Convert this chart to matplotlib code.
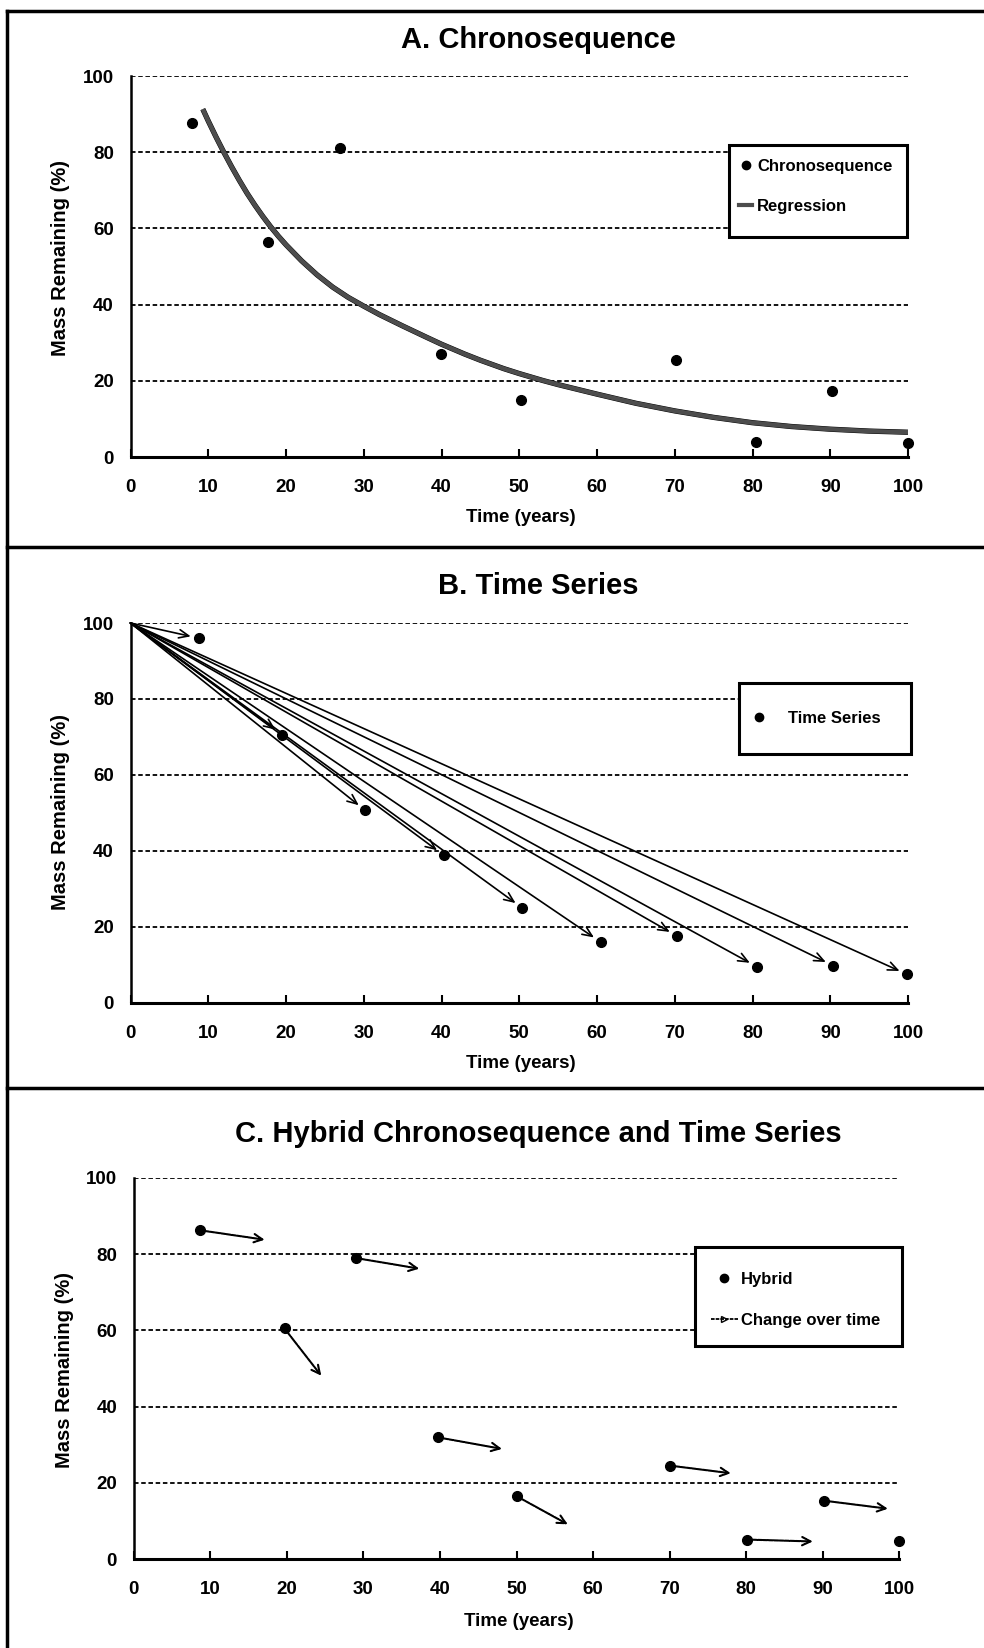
import numpy as np
import matplotlib.pyplot as plt
import matplotlib.patheffects as pe
from matplotlib.lines import Line2D
from matplotlib.patches import Rectangle

plt.rcParams['font.family'] = ['Liberation Sans', 'DejaVu Sans']
plt.rcParams['font.weight'] = 'bold'

# A. Chronosequence
chrono_x = [7.9, 17.7, 26.9, 39.9, 50.2, 70.1, 80.4, 90.2, 100]
chrono_y = [87.6, 56.3, 81.2, 27.1, 14.9, 25.4, 4.0, 17.3, 3.8]
regr_x = [9.3, 10, 11, 12, 13, 14, 15, 16, 17, 18, 19, 20, 22, 24, 26, 28, 30, 32, 35, 38, 40,
          43, 45, 48, 50, 53, 55, 58, 60, 65, 70, 75, 80, 85, 90, 95, 100]
regr_y = [91.3, 88.2, 84.0, 80.0, 76.2, 72.6, 69.2, 66.1, 63.2, 60.5, 58.0, 55.7, 51.5, 47.8, 44.6,
          41.9, 39.6, 37.4, 34.4, 31.5, 29.6, 27.0, 25.4, 23.2, 21.9, 20.1, 19.0, 17.5, 16.5, 14.1,
          12.1, 10.4, 9.0, 8.0, 7.3, 6.8, 6.5]

# B. Time series (all arrows start at 0 years, 100 %)
ts_x = [8.8, 19.5, 30.2, 40.3, 50.4, 60.5, 70.3, 80.6, 90.4, 99.9]
ts_y = [96.0, 70.6, 50.6, 38.8, 24.9, 15.9, 17.5, 9.4, 9.7, 7.4]

# C. Hybrid
hyb_x = [8.6, 19.7, 29.0, 39.8, 50.0, 70.1, 80.1, 90.2, 100]
hyb_y = [86.3, 60.5, 79.0, 31.9, 16.5, 24.5, 5.1, 15.3, 4.6]
hyb_end_x = [17.1, 24.5, 37.3, 48.1, 56.7, 78.0, 88.7, 98.5]
hyb_end_y = [83.8, 48.1, 76.2, 28.9, 9.1, 22.5, 4.6, 13.2]

xticks = list(range(0, 101, 10))
yticks = list(range(0, 101, 20))

W, H = 984, 1648
fig = plt.figure(figsize=(W / 100, H / 100), dpi=100)


def make_axes(left, right, top, bottom):
    ax = fig.add_axes([left / W, 1 - bottom / H, (right - left) / W, (bottom - top) / H])
    ax.box_px = (left, right, top, bottom)
    ax.set_xlim(0, 100)
    ax.set_ylim(0, 100)
    ax.set_xticks(xticks)
    ax.set_yticks(yticks)
    ax.spines['top'].set_visible(False)
    ax.spines['right'].set_visible(False)
    ax.spines['left'].set_linewidth(1.8)
    ax.spines['bottom'].set_linewidth(2.2)
    ax.tick_params(axis='x', direction='in', length=6, width=1.5, pad=16, labelsize=13.5)
    ax.tick_params(axis='y', length=0, pad=12, labelsize=13.5)
    for lab in ax.get_xticklabels() + ax.get_yticklabels():
        lab.set_fontweight('bold')
    ax.yaxis.grid(True, color='black', linestyle=(0, (2.5, 1.5)), linewidth=1.3)
    ax.set_axisbelow(True)
    return ax


def to_axes(ax, x, y):
    left, right, top, bottom = ax.box_px
    return (x - left) / (right - left), (bottom - y) / (bottom - top)


def hollow(lw):
    return [pe.Stroke(linewidth=lw, foreground='black'), pe.Stroke(linewidth=lw * 0.35, foreground='0.75'), pe.Normal()]


def legend_box(ax, handles, labels, box, start, top, hl, tp, ls):
    # box drawn separately so its size matches the original, entries placed inside it
    x0, y1 = to_axes(ax, box[0], box[2])
    x1, y0 = to_axes(ax, box[1], box[3])
    ax.add_patch(Rectangle((x0, y0), x1 - x0, y1 - y0, transform=ax.transAxes, facecolor='white',
                           edgecolor='black', lw=2.2, zorder=4.8, clip_on=False))
    ax_x, ax_y = to_axes(ax, start, top)
    ax.legend(handles, labels, loc='upper left', bbox_to_anchor=(ax_x, ax_y), borderaxespad=0,
              borderpad=0, frameon=False, prop={'size': 12, 'weight': 'bold'},
              handlelength=hl, handletextpad=tp, labelspacing=ls)


# frame lines around the panels
for (x1, y1, x2, y2) in [(7, 11, 984, 11), (7, 11, 7, 1648), (7, 547, 984, 547), (7, 1088, 984, 1088)]:
    fig.add_artist(Line2D([x1 / W, x2 / W], [1 - y1 / H, 1 - y2 / H], color='black', lw=2.5))

# ---- A ----
axA = make_axes(130.5, 908, 76, 457)
axA.plot(chrono_x, chrono_y, 'o', color='black', markersize=7, clip_on=False, zorder=4)
axA.plot(regr_x, regr_y, color='0.3', lw=3.2, path_effects=hollow(3.8), zorder=3,
         solid_capstyle='butt')
hA = [Line2D([], [], marker='o', color='black', ls='none', markersize=6),
      Line2D([], [], color='0.3', lw=3)]
legend_box(axA, hA, ['Chronosequence', 'Regression'], (729, 907, 144.5, 237), 739, 159, 0.8, 0.3, 1.5)

# ---- B ----
axB = make_axes(130.5, 908, 623, 1002.5)
axB.plot(ts_x, ts_y, 'o', color='black', markersize=7, clip_on=False, zorder=4)
for x, y in zip(ts_x, ts_y):
    axB.annotate('', xy=(x, y), xytext=(0, 100),
                 arrowprops=dict(arrowstyle='->,head_length=0.7,head_width=0.3', color='black',
                                 lw=1.2, shrinkA=0, shrinkB=6))
hB = [Line2D([], [], marker='o', color='black', ls='none', markersize=6)]
legend_box(axB, hB, ['Time Series'], (739, 911, 682.5, 754), 752, 711, 0.8, 1.34, 1.0)

# ---- C ----
axC = make_axes(133.7, 899.3, 1178, 1559)
axC.plot(hyb_x, hyb_y, 'o', color='black', markersize=7, clip_on=False, zorder=4)
for x, y, ex, ey in zip(hyb_x, hyb_y, hyb_end_x, hyb_end_y):
    axC.annotate('', xy=(ex, ey), xytext=(x, y),
                 arrowprops=dict(arrowstyle='->,head_length=0.6,head_width=0.3', color='black',
                                 lw=1.5, linestyle=(0, (2, 0.6)), shrinkA=0, shrinkB=0))
hC = [Line2D([], [], marker='o', color='black', ls='none', markersize=6),
      Line2D([], [], color='black', lw=1.3, ls=(0, (2, 0.6)), marker='>', markevery=[1],
             markersize=5, fillstyle='none')]
legend_box(axC, hC, ['Hybrid', 'Change over time'], (695, 902, 1247, 1346), 711, 1272, 1.6, 0.2, 1.55)

# titles and axis labels
for (tx, ty, txt) in [(538, 40, 'A. Chronosequence'), (538, 586, 'B. Time Series'),
                      (538, 1134, 'C. Hybrid Chronosequence and Time Series')]:
    fig.text(tx / W, 1 - ty / H, txt, ha='center', va='center', fontsize=21, fontweight='bold')
for (tx, ty) in [(61, 258), (61, 812), (65, 1370)]:
    fig.text(tx / W, 1 - ty / H, 'Mass Remaining (%)', ha='center', va='center', rotation=90,
             fontsize=14.5, fontweight='bold')
for (tx, ty) in [(521, 518), (521, 1064), (519, 1622)]:
    fig.text(tx / W, 1 - ty / H, 'Time (years)', ha='center', va='center', fontsize=13.5,
             fontweight='bold')

fig.savefig('out.png', dpi=100)
